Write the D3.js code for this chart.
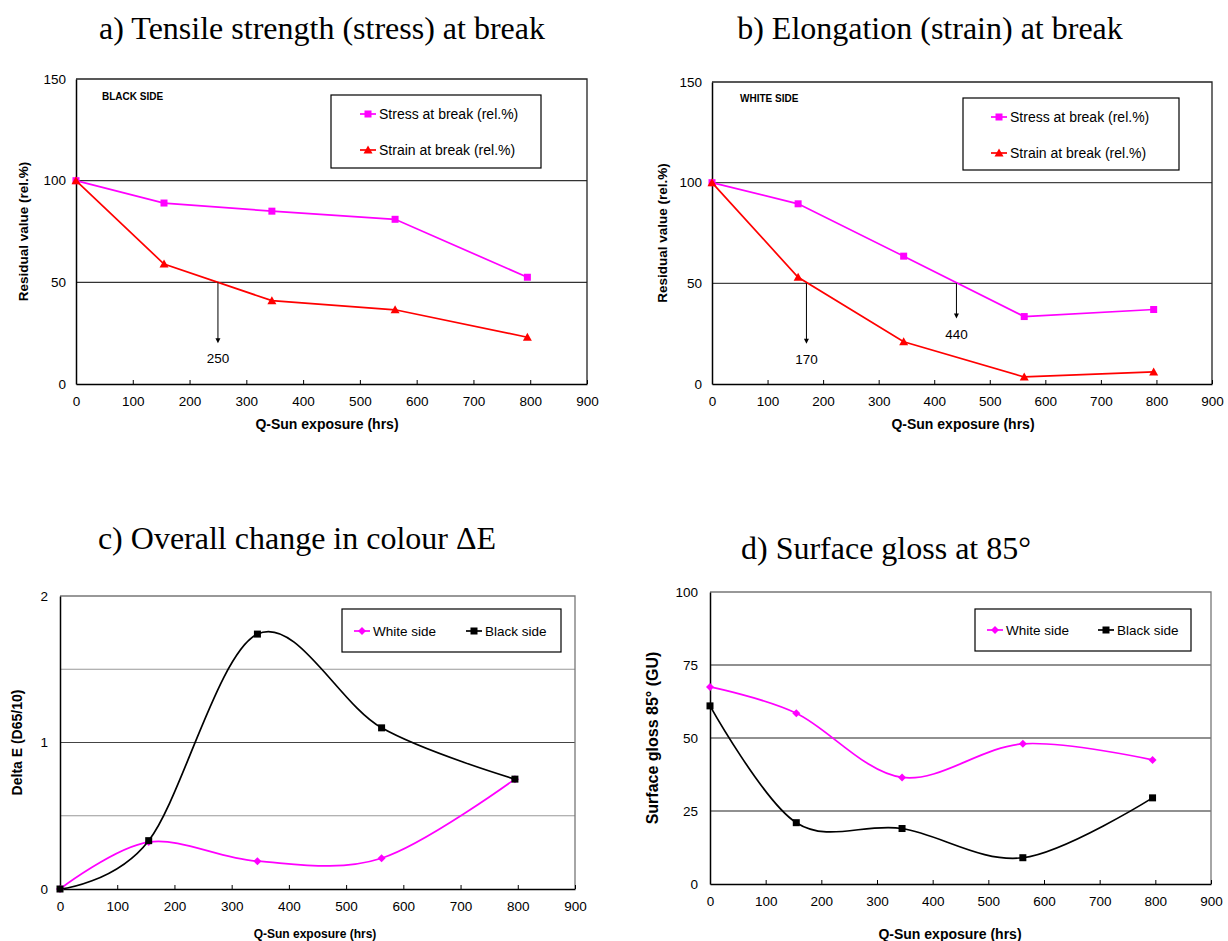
<!DOCTYPE html>
<html>
<head>
<meta charset="utf-8">
<script src="https://cdn.jsdelivr.net/npm/d3@7"></script>
<style>
  body { margin: 0; background: #fff; }
  svg { display: block; }
  text { font-family: Arial, "Liberation Sans", sans-serif; fill: #000; }
  .ttl { font-family: "Times New Roman", "Liberation Serif", serif; font-size: 32px; }
</style>
</head>
<body>
<script>
// exposure hours for every panel
var hours = [0, 155, 345, 562, 795];
var xTicks = [0, 100, 200, 300, 400, 500, 600, 700, 800, 900];

// a) black side
var stressBlack = [100, 89, 85, 81, 52.5];
var strainBlack = [100, 59, 41, 36.5, 23];
var marksBlack = [250];
// b) white side
var stressWhite = [100, 89.5, 63.5, 33.5, 37];
var strainWhite = [100, 53, 21, 3.5, 6];
var marksWhite = [170, 440];
// c) delta E
var deltaWhite = [0, 0.32, 0.19, 0.21, 0.75];
var deltaBlack = [0, 0.33, 1.74, 1.10, 0.75];
// d) gloss 85
var glossWhite = [67.5, 58.5, 36.5, 48, 42.5];
var glossBlack = [61, 21, 19, 9, 29.5];

var width = 1228, height = 941;
var svg = d3.select("body").append("svg")
    .attr("width", width)
    .attr("height", height);

function marker(g, type, x, y, color) {
  if (type == "square") {
    g.append("rect").attr("x", x - 3.5).attr("y", y - 3.5).attr("width", 7).attr("height", 7).attr("fill", color);
  } else if (type == "triangle") {
    g.append("path").attr("d", "M" + x + "," + (y - 4.5) + "L" + (x + 4.5) + "," + (y + 3.5) + "L" + (x - 4.5) + "," + (y + 3.5) + "Z").attr("fill", color);
  } else {
    g.append("path").attr("d", "M" + x + "," + (y - 4) + "L" + (x + 4) + "," + y + "L" + x + "," + (y + 4) + "L" + (x - 4) + "," + y + "Z").attr("fill", color);
  }
}

function panel(p) {
  var g = svg.append("g");
  var x = d3.scaleLinear().domain([0, 900]).range([p.left, p.right]);
  var y = d3.scaleLinear().domain(p.yDomain).range([p.bottom, p.top]);

  // title
  g.append("text").attr("class", "ttl")
    .attr("x", p.titleX).attr("y", p.titleY)
    .attr("text-anchor", "middle").text(p.title);

  // gridlines
  p.grid.forEach(function(gl) {
    g.append("line")
      .attr("x1", p.left).attr("x2", p.right)
      .attr("y1", y(gl.v)).attr("y2", y(gl.v))
      .attr("stroke", gl.c).attr("stroke-width", 1.2);
  });

  // frame
  g.append("path")
    .attr("d", "M" + p.left + "," + p.top + "H" + p.right + "V" + p.bottom)
    .attr("fill", "none").attr("stroke", p.frame).attr("stroke-width", 1.3);

  // axes
  var xAxis = g.append("g").attr("transform", "translate(0," + p.bottom + ")")
    .call(d3.axisBottom(x).tickValues(xTicks).tickSizeInner(-4).tickSizeOuter(0).tickPadding(12));
  var yAxis = g.append("g").attr("transform", "translate(" + p.left + ",0)")
    .call(d3.axisLeft(y).tickValues(p.yTicks).tickFormat(d3.format("~g")).tickSize(0).tickPadding(p.yPad));
  [xAxis, yAxis].forEach(function(a) {
    a.select(".domain").attr("stroke", "#000").attr("stroke-width", 1.5);
    a.selectAll(".tick line").attr("stroke", "#000");
    a.selectAll(".tick text").style("font-size", "13.5px").attr("fill", "#000");
  });

  // axis titles
  g.append("text")
    .attr("transform", "translate(" + p.yTitleX + "," + ((p.top + p.bottom) / 2) + ") rotate(-90)")
    .attr("text-anchor", "middle")
    .style("font-weight", "bold").style("font-size", p.yTitleSize + "px")
    .text(p.yTitle);
  g.append("text")
    .attr("x", p.xTitleX).attr("y", p.xTitleY)
    .attr("text-anchor", "middle")
    .style("font-weight", "bold").style("font-size", p.xTitleSize + "px")
    .text("Q-Sun exposure (hrs)");

  if (p.side) {
    g.append("text").attr("x", p.sideX).attr("y", p.sideY)
      .style("font-weight", "bold").style("font-size", "10px").text(p.side);
  }

  // series
  var line = d3.line()
    .x(function(d) { return x(d[0]); })
    .y(function(d) { return y(d[1]); })
    .curve(p.smooth ? d3.curveCardinal.tension(0) : d3.curveLinear);
  p.series.forEach(function(s) {
    var pts = hours.map(function(h, i) { return [h, s.values[i]]; });
    g.append("path").datum(pts)
      .attr("d", line)
      .attr("fill", "none")
      .attr("stroke", s.color)
      .attr("stroke-width", 1.7);
    pts.forEach(function(d) { marker(g, s.marker, x(d[0]), y(d[1]), s.color); });
  });

  // 50 % crossing arrows
  (p.marks || []).forEach(function(m) {
    var y0 = y(50), y1 = y(m.end);
    g.append("line").attr("x1", x(m.h)).attr("x2", x(m.h))
      .attr("y1", y0).attr("y2", y1 - 3)
      .attr("stroke", "#000").attr("stroke-width", 1);
    g.append("path")
      .attr("d", "M" + (x(m.h) - 2.5) + "," + (y1 - 5) + "L" + (x(m.h) + 2.5) + "," + (y1 - 5) + "L" + x(m.h) + "," + y1 + "Z")
      .attr("fill", "#000");
    g.append("text").attr("x", x(m.h)).attr("y", y1 + 20)
      .attr("text-anchor", "middle").style("font-size", "13.5px").text(m.h);
  });

  // legend
  var L = p.legend;
  g.append("rect").attr("x", L.x).attr("y", L.y).attr("width", L.w).attr("height", L.h)
    .attr("fill", "#fff").attr("stroke", "#000").attr("stroke-width", 1.2);
  p.series.forEach(function(s, i) {
    var lx = L.x + L.items[i][0], ly = L.y + L.items[i][1];
    g.append("line").attr("x1", lx).attr("x2", lx + 16).attr("y1", ly).attr("y2", ly)
      .attr("stroke", s.color).attr("stroke-width", 1.7);
    marker(g, s.marker, lx + 8, ly, s.color);
    g.append("text").attr("x", lx + 19).attr("y", ly + 5)
      .style("font-size", L.size + "px").text(s.name);
  });
}

panel({
  left: 76, right: 587, top: 79, bottom: 384, yDomain: [0, 150], yTicks: [0, 50, 100, 150], yPad: 10,
  title: "a) Tensile strength (stress) at break", titleX: 322, titleY: 39,
  grid: [{ v: 50, c: "#333" }, { v: 100, c: "#333" }], frame: "#222",
  yTitle: "Residual value (rel.%)", yTitleX: 28, yTitleSize: 13.5,
  xTitleX: 327, xTitleY: 429, xTitleSize: 14,
  side: "BLACK SIDE", sideX: 102, sideY: 100,
  series: [
    { name: "Stress at break (rel.%)", values: stressBlack, color: "#ff00ff", marker: "square" },
    { name: "Strain at break (rel.%)", values: strainBlack, color: "#ff0000", marker: "triangle" }
  ],
  marks: marksBlack.map(function(h) { return { h: h, end: 20 }; }),
  legend: { x: 331, y: 95, w: 210, h: 73, size: 14, items: [[29, 19], [29, 55]] }
});

panel({
  left: 712, right: 1212, top: 82, bottom: 384, yDomain: [0, 150], yTicks: [0, 50, 100, 150], yPad: 10,
  title: "b) Elongation (strain) at break", titleX: 930, titleY: 39,
  grid: [{ v: 50, c: "#444" }, { v: 100, c: "#444" }], frame: "#222",
  yTitle: "Residual value (rel.%)", yTitleX: 667, yTitleSize: 13.5,
  xTitleX: 963, xTitleY: 429, xTitleSize: 14,
  side: "WHITE SIDE", sideX: 740, sideY: 102,
  series: [
    { name: "Stress at break (rel.%)", values: stressWhite, color: "#ff00ff", marker: "square" },
    { name: "Strain at break (rel.%)", values: strainWhite, color: "#ff0000", marker: "triangle" }
  ],
  marks: [{ h: marksWhite[0], end: 20 }, { h: marksWhite[1], end: 32.5 }],
  legend: { x: 963, y: 98, w: 216, h: 72, size: 14, items: [[28, 19], [28, 55]] }
});

panel({
  left: 60, right: 575, top: 596, bottom: 889, yDomain: [0, 2], yTicks: [0, 1, 2], yPad: 12,
  title: "c) Overall change in colour \u0394E", titleX: 297, titleY: 549, smooth: true,
  grid: [{ v: 0.5, c: "#999" }, { v: 1, c: "#444" }, { v: 1.5, c: "#999" }], frame: "#777",
  yTitle: "Delta E (D65/10)", yTitleX: 22, yTitleSize: 14,
  xTitleX: 315, xTitleY: 938, xTitleSize: 12,
  series: [
    { name: "White side", values: deltaWhite, color: "#ff00ff", marker: "diamond" },
    { name: "Black side", values: deltaBlack, color: "#000000", marker: "square" }
  ],
  legend: { x: 342, y: 609, w: 219, h: 43, size: 13.5, items: [[12, 22], [124, 22]] }
});

panel({
  left: 710, right: 1211, top: 592, bottom: 884, yDomain: [0, 100], yTicks: [0, 25, 50, 75, 100], yPad: 12,
  title: "d) Surface gloss at 85\u00b0", titleX: 886, titleY: 559, smooth: true,
  grid: [{ v: 25, c: "#222" }, { v: 50, c: "#222" }, { v: 75, c: "#222" }], frame: "#777",
  yTitle: "Surface gloss 85\u00b0 (GU)", yTitleX: 658, yTitleSize: 16,
  xTitleX: 950, xTitleY: 939, xTitleSize: 14,
  series: [
    { name: "White side", values: glossWhite, color: "#ff00ff", marker: "diamond" },
    { name: "Black side", values: glossBlack, color: "#000000", marker: "square" }
  ],
  legend: { x: 975, y: 609, w: 216, h: 42, size: 13.5, items: [[12, 21], [123, 21]] }
});
</script>
</body>
</html>
